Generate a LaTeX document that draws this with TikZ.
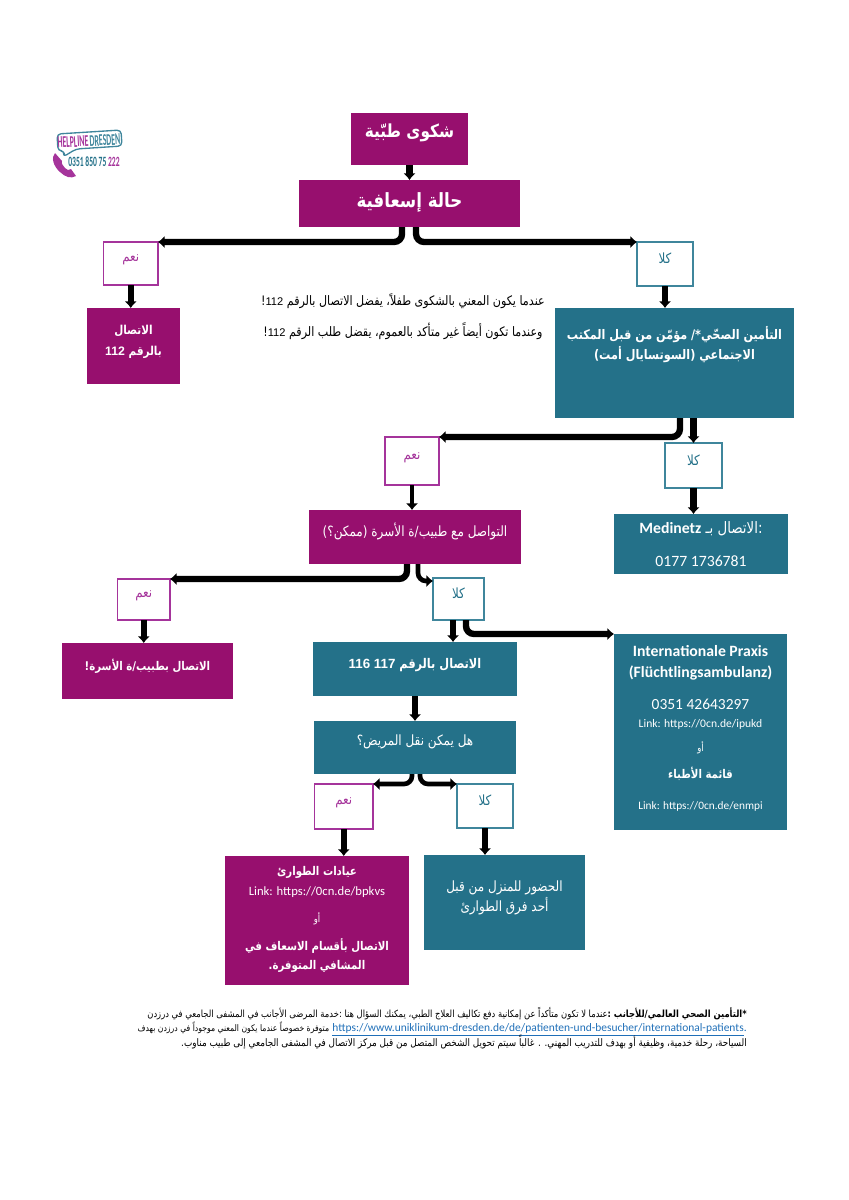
\documentclass[tikz,border=0pt]{standalone}
\usepackage{fontspec}
\usepackage{tikz}
\usetikzlibrary{arrows.meta,positioning}
\setmainfont{Carlito}
\newfontfamily\arabicfont[Script=Arabic,FakeStretch=0.85]{DejaVu Sans}
\newfontfamily\digitfont{Liberation Sans}
\newfontfamily\hintdigitfont[Scale=0.85]{Liberation Sans}
\TeXXeTstate=1
\lineskiplimit=-100pt
\definecolor{helpviolet}{HTML}{970F6E}
\definecolor{helpteal}{HTML}{247189}
\definecolor{yesline}{HTML}{A5349B}
\definecolor{noline}{HTML}{3F869C}
\definecolor{linkblue}{HTML}{1F6FB8}
\newcommand{\px}{0.75pt}
\newcommand{\sz}[2]{\fontsize{#1}{#2}\selectfont}
\newcommand{\ar}[1]{{\arabicfont\beginR #1\endR}}
\newcommand{\lat}[1]{\beginL{\normalfont #1}\endL{}}
\newcommand{\digits}[1]{\beginL{\digitfont #1}\endL{}}
\newcommand{\hintdigits}[1]{\beginL{\hintdigitfont #1}\endL{}}

\begin{document}
\begin{tikzpicture}[
    x=0.75pt, y=-0.75pt,
    wh/.style n args={2}{minimum width=#1*\px, minimum height=#2*\px},
    basebox/.style={align=center, inner sep=0pt, outer sep=0pt},
    violetbox/.style={basebox, fill=helpviolet, text=white},
    tealbox/.style={basebox, fill=helpteal, text=white},
    yesbox/.style={basebox, draw=yesline, line width=1pt, fill=white, text=yesline,
                   font=\sz{10.5}{10}},
    nobox/.style={basebox, draw=noline, line width=1pt, fill=white, text=helpteal,
                  font=\sz{10.5}{10}},
    arr/.style={-{Latex[length=5pt,width=9.5pt]}, line width=4.75pt, rounded corners=6pt},
    arrthin/.style={arr, line width=3.5pt}
]
\useasboundingbox (0,0) rectangle (849,1200);

\node[violetbox, wh={117}{52}, font=\sz{13.5}{14}\bfseries] (complaint) at (409.5,139)
    {\ar{شكوى طبّية}\\[-2pt]\mbox{}};
\node[violetbox, wh={221}{47}, font=\sz{14.7}{15}\bfseries, below=15*\px of complaint] (emergency)
    {\ar{حالة إسعافية}\\[-10pt]\mbox{}};

\node[yesbox, wh={54.5}{43}, below=15*\px of emergency, xshift=-278.75*\px] (yesone)
    {\ar{نعم}\\[-2pt]\mbox{}};
\node[nobox, wh={56}{44}, below=15*\px of emergency, xshift=255.5*\px] (noone)
    {\ar{كلا}\\[-2pt]\mbox{}};
\node[violetbox, wh={93}{76}, below=23*\px of yesone, xshift=2.75*\px,
      font=\sz{9.2}{16}\bfseries] (callamb)
    {\ar{الاتصال}\\\ar{بالرقم \digits{112}}\\[-8pt]\mbox{}};
\node[tealbox, wh={239}{110}, below=22*\px of noone, xshift=9.5*\px,
      font=\sz{9.9}{15}\bfseries] (insured)
    {\ar{التأمين الصحّي*/ مؤمّن من قبل المكتب}\\
     \ar{الاجتماعي (السوتسايال أمت)}\\[15pt]\mbox{}};
\node[left=10*\px of insured, yshift=46.5*\px, inner sep=0pt, align=center,
      font=\sz{9.8}{10}] (hint)
    {\ar{عندما يكون المعني بالشكوى طفلاً، يفضل الاتصال بالرقم \hintdigits{112}!}\\[13pt]
     \ar{وعندما تكون أيضاً غير متأكد بالعموم، يقضل طلب الرقم \hintdigits{112}!}};

\node[nobox, wh={57}{45}, below=25*\px of insured, xshift=19*\px] (notwo)
    {\ar{كلا}\\[-2pt]\mbox{}};
\node[tealbox, wh={174}{60}, below=26*\px of notwo, xshift=7.5*\px, font=\sz{11.8}{15}] (medinetz)
    {\ar{:الاتصال بـ \lat{\bfseries Medinetz}}\\[9.5pt]0177 1736781};
\node[yesbox, wh={54}{48}, below=19*\px of insured, xshift=-262.5*\px] (yestwo)
    {\ar{نعم}\\[-2pt]\mbox{}};
\node[violetbox, wh={212}{54}, below=25*\px of yestwo, xshift=3*\px, font=\sz{10.6}{12}] (family)
    {\ar{التواصل مع طبيب/ة الأسرة (ممكن؟)}\\[-1pt]\mbox{}};

\node[yesbox, wh={52.5}{41}, below=15*\px of family, xshift=-271.25*\px] (yesthree)
    {\ar{نعم}\\[-2pt]\mbox{}};
\node[nobox, wh={51}{42}, below=14*\px of family, xshift=43.5*\px] (nothree)
    {\ar{كلا}\\[-2pt]\mbox{}};
\node[violetbox, wh={171}{56}, below=23*\px of yesthree, xshift=3.75*\px,
      font=\sz{9}{12}\bfseries] (callfamily)
    {\ar{الاتصال بطبيب/ة الأسرة!}\\[-3pt]\mbox{}};
\node[tealbox, wh={204}{54}, below=22*\px of nothree, xshift=-43.5*\px,
      font=\sz{10}{12}\bfseries] (callvisit)
    {\ar{الاتصال بالرقم \digits{116 117}}\\[-3pt]\mbox{}};
\node[tealbox, wh={173}{196}, right=97*\px of callvisit, yshift=-63*\px, font=\sz{11.8}{14}] (praxis)
    {{\bfseries Internationale Praxis}\\[1.75pt]
     {\bfseries (Flüchtlingsambulanz)}\\[10pt]
     {\sz{11.6}{14}0351 42643297}\\[-0.5pt]
     {\sz{8.7}{10}Link: https://0cn.de/ipukd}\\[4pt]
     {\sz{7.5}{10}\ar{أو}}\\[6.25pt]
     {\sz{9}{12}\bfseries\ar{قائمة الأطباء}}\\[9.25pt]
     {\sz{8.5}{10}Link: https://0cn.de/enmpi}\\[-7pt]\mbox{}};
\node[tealbox, wh={202}{53}, below=25*\px of callvisit, font=\sz{10.6}{12}] (transport)
    {\ar{هل يمكن نقل المريض؟}\\[-1pt]\mbox{}};

\node[yesbox, wh={58.5}{45}, below=10*\px of transport, xshift=-71.25*\px] (yesfour)
    {\ar{نعم}\\[-2pt]\mbox{}};
\node[nobox, wh={56}{44}, below=10*\px of transport, xshift=70*\px] (nofour)
    {\ar{كلا}\\[-2pt]\mbox{}};
\node[violetbox, wh={184}{129}, below=27*\px of yesfour, xshift=-26.75*\px, font=\sz{9}{13}] (urgent)
    {{\bfseries\ar{عيادات الطوارئ}}\\[2pt]
     {\sz{9.5}{11}Link: https://0cn.de/bpkvs}\\[7.25pt]
     {\sz{7.5}{10}\ar{أو}}\\[8pt]
     {\bfseries\ar{الاتصال بأقسام الاسعاف في}}\\[1.25pt]
     {\bfseries\ar{المشافي المتوفرة.}}\\[-9pt]\mbox{}};
\node[tealbox, wh={161}{95}, below=27*\px of nofour, xshift=19.5*\px, font=\sz{10.6}{15}] (home)
    {\ar{الحضور للمنزل من قبل}\\\ar{أحد فرق الطوارئ}\\[-5pt]\mbox{}};

\node[anchor=east, inner sep=0pt, align=right, font=\sz{7.4}{10.7}] (footnote) at (747,1028)
    {\ar{{\bfseries *التأمين الصحي العالمي/للأجانب :}عندما لا تكون متأكداً عن إمكانية دفع تكاليف العلاج الطبي، يمكنك السؤال هنا :خدمة المرضى الأجانب في المشفى الجامعي في درزدن}\\
     {\sz{6.8}{10.7}\ar{\lat{\sz{8.6}{10.7}\color{linkblue}\underline{https://www.uniklinikum-dresden.de/de/patienten-und-besucher/international-patients}.} متوفرة خصوصاً عندما يكون المعني موجوداً في درزدن بهدف}}\\
     {\sz{7.8}{10.7}\ar{السياحة، رحلة خدمية، وظيفية أو بهدف للتدريب المهني. . غالباً سيتم تحويل الشخص المتصل من قبل مركز الاتصال في المشفى الجامعي إلى طبيب مناوب.}}};

\draw[arr] (complaint) -- (emergency);
\draw[arr] ([xshift=-5.6pt]emergency.south) |- (yesone.north east);
\draw[arr] ([xshift=4.9pt]emergency.south) |- (noone.north west);
\draw[arr] (yesone.south) -- (yesone.south |- callamb.north);
\draw[arr] (noone.south) -- (noone.south |- insured.north);
\draw[arr] ([xshift=4.1pt]insured.south) |- (yestwo.north east);
\draw[arr] (insured.south -| notwo.north) -- (notwo.north);
\draw[arr] (notwo.south) -- (notwo.south |- medinetz.north);
\draw[arrthin] (yestwo.south) -- (yestwo.south |- family.north);
\draw[arr] ([xshift=-6pt]family.south) |- (yesthree.north east);
\draw[arrthin] ([xshift=2.25pt]family.south) |- ([yshift=-2.25pt]nothree.north west);
\draw[arr] (yesthree.south) -- (yesthree.south |- callfamily.north);
\draw[arr] ([xshift=-4.1pt]nothree.south) -- ([xshift=-4.1pt]nothree.south |- callvisit.north);
\draw[arr] ([xshift=5.6pt]nothree.south) |- (praxis.north west);
\draw[arr] (callvisit) -- (transport);
\draw[arrthin] ([xshift=-2.25pt]transport.south) |- (yesfour.north east);
\draw[arrthin] ([xshift=3.75pt]transport.south) |- (nofour.north west);
\draw[arr] (yesfour.south) -- (yesfour.south |- urgent.north);
\draw[arr] (nofour.south) -- (nofour.south |- home.north);

% logo
\draw[noline, line width=1pt, rounded corners=3pt, line join=round]
    (57,134) -- (121,130) -- (122,146) -- (76,149) -- (63,157) -- (65,151) -- (58,151) -- cycle;
\node[rotate=3, inner sep=0pt, font=\sz{9.5}{10}] (logotitle) at (89,141)
    {\scalebox{0.62}[1.3]{\textcolor{yesline}{\bfseries HELPLINE}\,\textcolor{noline}{\bfseries DRESDEN}}};
\node[inner sep=0pt, font=\sz{8.5}{10}\bfseries, text=helpteal] (logophone) at (94,162)
    {\scalebox{0.67}[1.25]{0351 850 75 \textcolor{yesline}{222}}};
\fill[yesline] (55,153) .. controls (51,157) and (53,166) .. (60,172)
    .. controls (65,177) and (71,179) .. (76,176) -- (71,169) .. controls (69,171) and (67,170) .. (65,168)
    .. controls (63,166) and (61,163) .. (62,161) -- cycle;
\end{tikzpicture}
\end{document}
